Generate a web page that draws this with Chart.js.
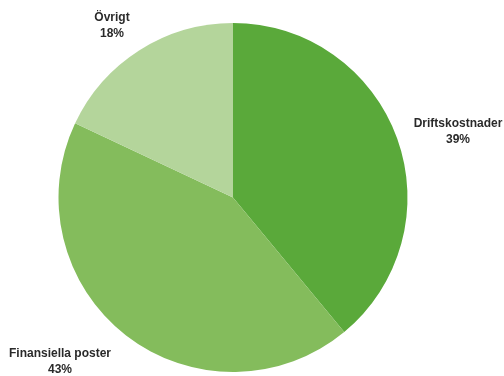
<!DOCTYPE html>
<html>
<head>
<meta charset="utf-8">
<script src="https://cdn.jsdelivr.net/npm/chart.js@4"></script>
<style>
  html, body { margin: 0; padding: 0; background: #fff; }
  #wrap { width: 504px; height: 376px; }
</style>
</head>
<body>
<div id="wrap"><canvas id="pie" width="504" height="376"></canvas></div>
<script>
const categories = ['Driftskostnader', 'Finansiella poster', 'Övrigt'];
const shares = [39, 43, 18];
const colors = ['#5aa93a', '#84bc5c', '#b4d59b'];

// where each label sits (center of the two text lines)
const labelPos = [[458, 132], [60, 362], [112, 26]];

const pieLabels = {
  id: 'pieLabels',
  afterDraw(chart) {
    const c = chart.ctx;
    c.save();
    c.font = 'bold 12px "Liberation Sans", Arial, sans-serif';
    c.fillStyle = '#2a2a2a';
    c.textAlign = 'center';
    c.textBaseline = 'middle';
    chart.data.labels.forEach(function(lbl, i) {
      var p = labelPos[i];
      c.fillText(lbl, p[0], p[1] - 8);
      c.fillText(chart.data.datasets[0].data[i] + '%', p[0], p[1] + 8);
    });
    c.restore();
  }
};

new Chart(document.getElementById('pie'), {
  type: 'pie',
  data: {
    labels: categories,
    datasets: [{
      data: shares,
      backgroundColor: colors,
      borderWidth: 0
    }]
  },
  options: {
    responsive: false,
    animation: false,
    layout: { padding: { left: 58, right: 96, top: 23, bottom: 4 } },
    plugins: {
      legend: { display: false },
      tooltip: { enabled: false }
    }
  },
  plugins: [pieLabels]
});
</script>
</body>
</html>
